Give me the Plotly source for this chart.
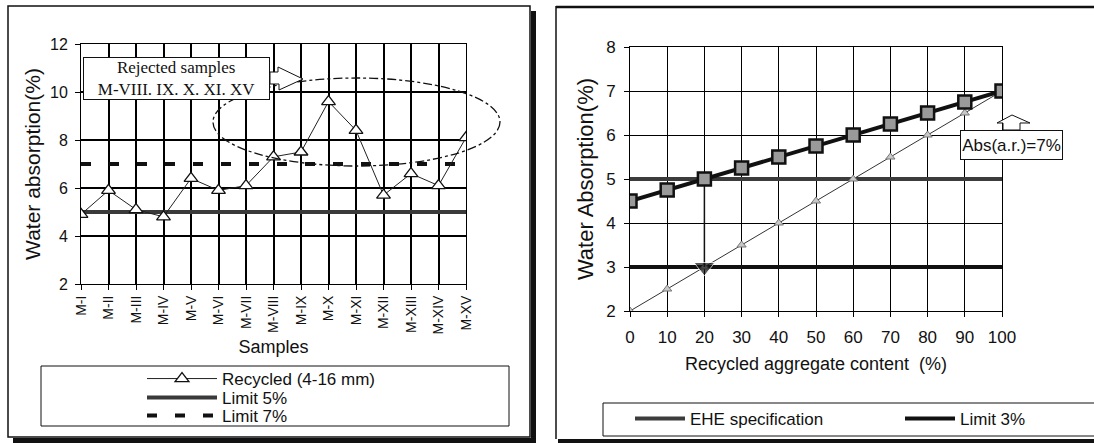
import plotly.graph_objects as go

W, H = 1094, 443

# ---------------- data ----------------
samples = ["M-I", "M-II", "M-III", "M-IV", "M-V", "M-VI", "M-VII", "M-VIII",
           "M-IX", "M-X", "M-XI", "M-XII", "M-XIII", "M-XIV", "M-XV"]
recycled = [4.9, 5.9, 5.1, 4.8, 6.4, 5.9, 6.1, 7.3, 7.5, 9.6, 8.4, 5.7, 6.6, 6.1, 8.1]
limit_5 = 5.0
limit_7 = 7.0

content = [0, 10, 20, 30, 40, 50, 60, 70, 80, 90, 100]
ehe_curve = [4.5, 4.75, 5.0, 5.25, 5.5, 5.75, 6.0, 6.25, 6.5, 6.75, 7.0]
absorption_line = [2.0, 2.5, 3.0, 3.5, 4.0, 4.5, 5.0, 5.5, 6.0, 6.5, 7.0]
ehe_limit = 5.0
limit_3 = 3.0
arrow_x = [20, 20]
arrow_y = [5.0, 3.0]

# ---------------- helpers (pixel -> paper) ----------------
def px(x):
    return x / W

def py(y):
    return 1 - y / H

FONT = "Liberation Sans, Arial, sans-serif"
SERIF = "Liberation Serif, Times New Roman, serif"

fig = go.Figure()

# ---- left chart ----
fig.add_trace(go.Scatter(
    x=samples, y=[limit_5] * len(samples), mode="lines", name="Limit 5%",
    line=dict(color="#3a3a3a", width=4), xaxis="x", yaxis="y", legend="legend2"))
fig.add_trace(go.Scatter(
    x=samples, y=[limit_7] * len(samples), mode="lines", name="Limit 7%",
    line=dict(color="#111111", width=4, dash="10px,18px"), xaxis="x", yaxis="y",
    legend="legend3"))
fig.add_trace(go.Scatter(
    x=samples, y=recycled, mode="lines+markers", name="Recycled (4-16 mm)",
    line=dict(color="#222222", width=1),
    marker=dict(symbol="triangle-up", size=12, color="white",
                line=dict(color="#111111", width=1.3)),
    xaxis="x", yaxis="y", legend="legend"))

# ---- right chart ----
fig.add_trace(go.Scatter(
    x=[content[0], content[-1]], y=[ehe_limit, ehe_limit], mode="lines",
    name="EHE specification", line=dict(color="#3c3c3c", width=4),
    xaxis="x2", yaxis="y2", legend="legend4"))
fig.add_trace(go.Scatter(
    x=[content[0], content[-1]], y=[limit_3, limit_3], mode="lines",
    name="Limit 3%", line=dict(color="#111111", width=4),
    xaxis="x2", yaxis="y2", legend="legend5"))
fig.add_trace(go.Scatter(
    x=content, y=absorption_line, mode="lines+markers", showlegend=False,
    line=dict(color="#333333", width=1),
    marker=dict(symbol="triangle-up", size=8, color="#c8c8c8",
                line=dict(color="#777777", width=1)),
    xaxis="x2", yaxis="y2"))
fig.add_trace(go.Scatter(
    x=arrow_x, y=arrow_y, mode="lines+markers", showlegend=False,
    line=dict(color="#111111", width=1.5),
    marker=dict(symbol="triangle-down", size=[0, 18], color="#111111"),
    xaxis="x2", yaxis="y2"))
fig.add_trace(go.Scatter(
    x=content, y=ehe_curve, mode="lines+markers", showlegend=False,
    line=dict(color="#111111", width=4),
    marker=dict(symbol="square", size=13, color="#9a9a9a",
                line=dict(color="#111111", width=2.5)),
    xaxis="x2", yaxis="y2"))

axis_common = dict(showline=True, linecolor="#000000", linewidth=1, mirror=True,
                   showgrid=True, gridcolor="#000000", gridwidth=1,
                   ticks="outside", ticklen=5, tickcolor="#000000",
                   zeroline=False, automargin=False)

legend_common = dict(bgcolor="rgba(0,0,0,0)", borderwidth=0, xanchor="left",
                     yanchor="middle", orientation="v", tracegroupgap=0)

fig.update_layout(
    width=W, height=H, margin=dict(l=0, r=0, t=0, b=0),
    paper_bgcolor="white", plot_bgcolor="white",
    font=dict(family=FONT, color="#111111", size=16),
    xaxis=dict(axis_common, domain=[px(81), px(466)], anchor="y",
               type="category", range=[0, 14], tickangle=-90,
               gridwidth=1.5, tickfont=dict(size=14),
               title=dict(text="Samples", font=dict(size=18), standoff=6)),
    yaxis=dict(axis_common, domain=[py(284), py(44)], anchor="x",
               range=[2, 12], dtick=2, gridwidth=1.5,
               tickfont=dict(size=16), ticklabelstandoff=4,
               title=dict(text="Water absorption(%)", font=dict(size=21), standoff=3)),
    xaxis2=dict(axis_common, domain=[px(630), px(1002)], anchor="y2",
                range=[0, 100], dtick=10, tickfont=dict(size=17),
                ticklabelstandoff=6,
                title=dict(text="Recycled aggregate content  (%)", font=dict(size=18),
                           standoff=10)),
    yaxis2=dict(axis_common, domain=[py(311), py(47)], anchor="x2",
                range=[2, 8], dtick=1, tickfont=dict(size=17),
                ticklabelstandoff=5,
                title=dict(text="Water Absorption(%)", font=dict(size=22), standoff=6)),
    legend=dict(legend_common, x=px(142), y=py(379), font=dict(size=17), itemwidth=70),
    legend2=dict(legend_common, x=px(142), y=py(398), font=dict(size=17), itemwidth=70),
    legend3=dict(legend_common, x=px(142), y=py(416), font=dict(size=17), itemwidth=70),
    legend4=dict(legend_common, x=px(630), y=py(419), font=dict(size=17), itemwidth=50),
    legend5=dict(legend_common, x=px(900), y=py(419), font=dict(size=17), itemwidth=50),
)

shapes = []
# left panel frame + shadow
shapes.append(dict(type="rect", xref="paper", yref="paper", x0=px(8), y0=py(437),
                   x1=px(530), y1=py(6), line=dict(color="#111111", width=1.5)))
shapes.append(dict(type="rect", xref="paper", yref="paper", x0=px(531), y0=py(443),
                   x1=px(536), y1=py(11), fillcolor="#111111", line=dict(width=0)))
shapes.append(dict(type="rect", xref="paper", yref="paper", x0=px(13), y0=py(443),
                   x1=px(536), y1=py(438), fillcolor="#111111", line=dict(width=0)))
# right panel frame
shapes.append(dict(type="line", xref="paper", yref="paper", x0=px(556), y0=py(6),
                   x1=px(556), y1=py(439), line=dict(color="#111111", width=1.5)))
shapes.append(dict(type="line", xref="paper", yref="paper", x0=px(556), y0=py(7),
                   x1=px(1094), y1=py(7), line=dict(color="#111111", width=2.5)))
shapes.append(dict(type="rect", xref="paper", yref="paper", x0=px(558), y0=py(443),
                   x1=px(1094), y1=py(439), fillcolor="#111111", line=dict(width=0)))
# legend boxes
shapes.append(dict(type="rect", xref="paper", yref="paper", x0=px(41), y0=py(426),
                   x1=px(509), y1=py(366), line=dict(color="#111111", width=1)))
shapes.append(dict(type="rect", xref="paper", yref="paper", x0=px(603), y0=py(436),
                   x1=px(1100), y1=py(403), line=dict(color="#111111", width=1)))
# rejected-samples ellipse
shapes.append(dict(type="circle", xref="paper", yref="paper", x0=px(213), y0=py(166),
                   x1=px(500), y1=py(78), line=dict(color="#111111", width=1.3,
                                                    dash="dashdot")))

def poly(pts):
    return "M " + " L ".join(f"{px(a):.5f},{py(b):.5f}" for a, b in pts) + " Z"

# block arrow from the "Rejected samples" box
shapes.append(dict(type="path", xref="paper", yref="paper",
                   path=poly([(270, 72), (278, 72), (278, 67), (303, 79),
                              (279, 90), (279, 84), (270, 84)]),
                   fillcolor="white", line=dict(color="#111111", width=1)))
# up arrow above "Abs(a.r.)=7%"
shapes.append(dict(type="path", xref="paper", yref="paper",
                   path=poly([(1003, 130), (1003, 123), (997, 123), (1012, 115),
                              (1030, 123), (1020, 123), (1020, 130)]),
                   fillcolor="white", line=dict(color="#111111", width=1)))
fig.update_layout(shapes=shapes)

fig.add_annotation(xref="paper", yref="paper", x=px(176), y=py(78),
                   xanchor="center", yanchor="middle",
                   text="Rejected samples<br>M-VIII. IX. X. XI. XV",
                   showarrow=False, font=dict(family=SERIF, size=17, color="#111111"),
                   width=185, height=41, bgcolor="white", bordercolor="#111111",
                   borderwidth=1, borderpad=0, align="center")
fig.add_annotation(xref="paper", yref="paper", x=px(1011), y=py(145),
                   xanchor="center", yanchor="middle",
                   text="Abs(a.r.)=7%", showarrow=False,
                   font=dict(family=FONT, size=17, color="#111111"),
                   width=101, height=28, bgcolor="white", bordercolor="#111111",
                   borderwidth=1, borderpad=0)

fig.write_html("out.html")
